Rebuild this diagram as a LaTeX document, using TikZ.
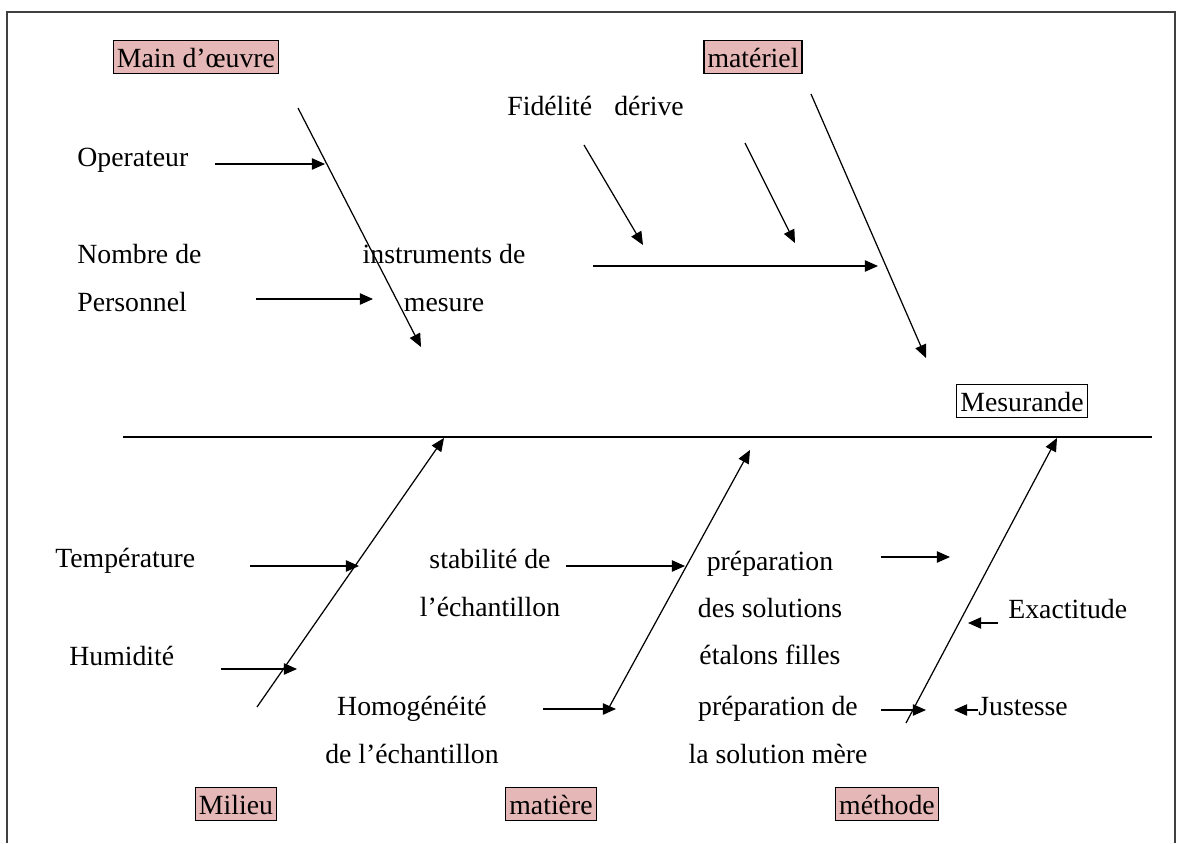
\documentclass[tikz,border=0pt]{standalone}
\usepackage{fontspec}
\setmainfont{Liberation Serif}
\usepackage{xcolor}
\usetikzlibrary{arrows.meta}
\definecolor{colorRose}{HTML}{E5B8B7}
\def\colorRose{colorRose}

\begin{document}
\begin{tikzpicture}[x=0.02cm, y=-0.02cm,
  texte/.style={inner sep=0pt, font=\fontsize{15.8pt}{27pt}\selectfont},
  lignes/.style={inner sep=0pt, align=center, font=\fontsize{15.8pt}{27pt}\selectfont},
  famille/.style={texte, text height=14.2pt, text depth=2.8pt, draw=black,
    fill=\colorRose, inner xsep=2pt, inner ysep=1pt, line width=0.6pt},
  fleche/.style={-{Triangle[length=7.5pt,width=6.5pt]}, line width=0.7pt}]

  \useasboundingbox (0,0) rectangle (1181,843);

  % Cadre
  \draw[black!75, line width=0.6pt] (7,843) -- (7,12) -- (1175,12) -- (1175,843);

  % Les familles de causes (5M) et l'effet
  \node[famille] (mainoeuvre) at (196,57) {Main d’œuvre};
  \node[famille] (materiel) at (753,57) {matériel};
  \node[famille] (milieu) at (236,804) {Milieu};
  \node[famille] (matiere) at (551,804) {matière};
  \node[famille] (methode) at (887,804) {méthode};
  \node[famille, fill=white] (mesurande) at (1022,401) {Mesurande};

  % Causes
  \node[texte, anchor=base west] (operateur) at (77,166) {Operateur};
  \node[lignes, align=left, anchor=west] (personnel) at (77,278) {Nombre de\\Personnel};
  \node[lignes] (instruments) at (444,278) {instruments de\\mesure};
  \node[texte, anchor=base west] (fidelite) at (507,115) {Fidélité};
  \node[texte, anchor=base west] (derive) at (614,115) {dérive};
  \node[texte, anchor=base west] (temperature) at (55,567) {Température};
  \node[texte, anchor=base west] (humidite) at (69,665) {Humidité};
  \node[lignes] (stabilite) at (490,583) {stabilité de\\l’échantillon};
  \node[lignes] (homogeneite) at (412,730) {Homogénéité\\de l’échantillon};
  \node[lignes] (filles) at (770,608) {préparation\\des solutions\\étalons filles};
  \node[lignes] (mere) at (778,730) {préparation de\\la solution mère};
  \node[texte, anchor=base west] (exactitude) at (1008,618) {Exactitude};
  \node[texte, anchor=base west] (justesse) at (978,715) {Justesse};

  % Extrémités des arêtes
  \coordinate (dos-g) at (123,437);
  \coordinate (dos-d) at (1152,437);
  \coordinate (mo-a) at (298,108);   \coordinate (mo-b) at (421,347);
  \coordinate (mat-a) at (811,94);   \coordinate (mat-b) at (926,358);
  \coordinate (mil-a) at (257,707);  \coordinate (mil-b) at (444,438);
  \coordinate (mtr-a) at (606,713);  \coordinate (mtr-b) at (750,450);
  \coordinate (met-a) at (906,723);  \coordinate (met-b) at (1057,438);

  % Arête principale
  \draw[line width=0.8pt] (dos-g) -- (dos-d);

  % Arêtes des familles
  \draw[fleche] (mo-a) -- (mo-b);
  \draw[fleche] (mat-a) -- (mat-b);
  \draw[fleche] (mil-a) -- (mil-b);
  \draw[fleche] (mtr-a) -- (mtr-b);
  \draw[fleche] (met-a) -- (met-b);

  % Flèches des causes : main d'oeuvre
  \coordinate (op-a) at (215,164);   \coordinate (op-b) at (325,164);
  \coordinate (pe-a) at (256,299);   \coordinate (pe-b) at (373,299);
  \draw[fleche] (op-a) -- (op-b);
  \draw[fleche] (pe-a) -- (pe-b);

  % matériel
  \coordinate (fi-a) at (584,145);   \coordinate (fi-b) at (643,245);
  \coordinate (de-a) at (745,143);   \coordinate (de-b) at (795,243);
  \coordinate (in-a) at (593,266);   \coordinate (in-b) at (878,266);
  \draw[fleche] (fi-a) -- (fi-b);
  \draw[fleche] (de-a) -- (de-b);
  \draw[fleche] (in-a) -- (in-b);

  % milieu
  \coordinate (te-a) at (250,566);   \coordinate (te-b) at (359,566);
  \coordinate (hu-a) at (221,669);   \coordinate (hu-b) at (297,669);
  \draw[fleche] (te-a) -- (te-b);
  \draw[fleche] (hu-a) -- (hu-b);

  % matière
  \coordinate (st-a) at (566,566);   \coordinate (st-b) at (685,566);
  \coordinate (ho-a) at (543,709);   \coordinate (ho-b) at (616,709);
  \draw[fleche] (st-a) -- (st-b);
  \draw[fleche] (ho-a) -- (ho-b);

  % méthode
  \coordinate (pf-a) at (881,557);   \coordinate (pf-b) at (950,557);
  \coordinate (pm-a) at (881,710);   \coordinate (pm-b) at (926,710);
  \coordinate (ex-a) at (998,623);   \coordinate (ex-b) at (968,623);
  \coordinate (ju-a) at (978,710);   \coordinate (ju-b) at (954,710);
  \draw[fleche] (pf-a) -- (pf-b);
  \draw[fleche] (pm-a) -- (pm-b);
  \draw[fleche] (ex-a) -- (ex-b);
  \draw[fleche] (ju-a) -- (ju-b);

\end{tikzpicture}
\end{document}
